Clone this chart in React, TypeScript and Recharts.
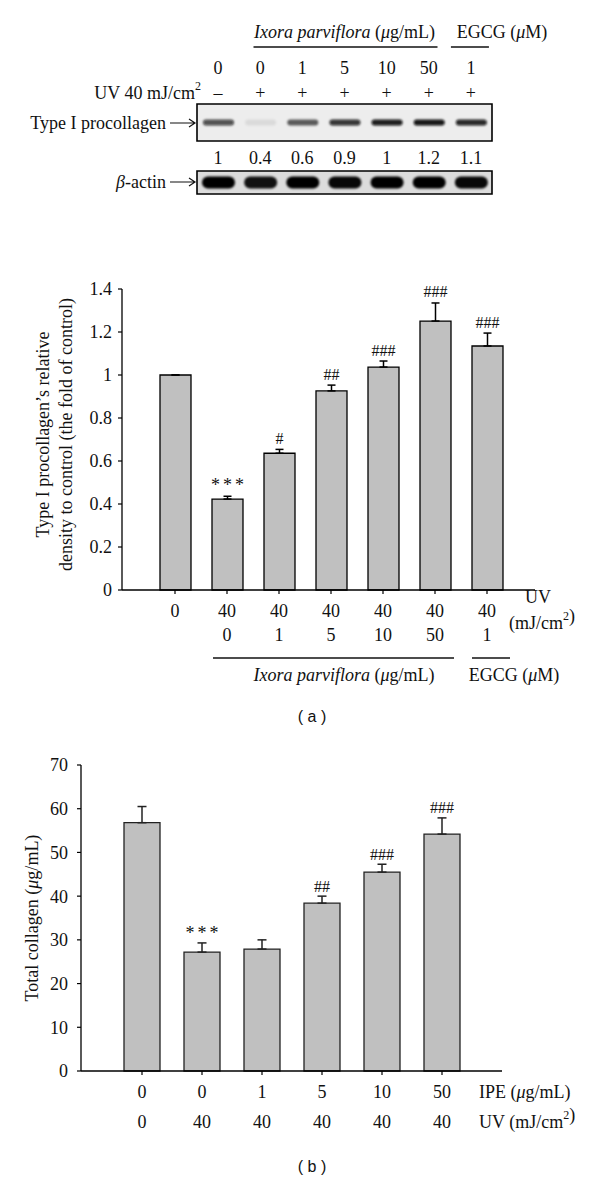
import React from "react";
import { Bar, BarChart, ErrorBar, LabelList, ReferenceArea, XAxis, YAxis } from "recharts";

const SERIF = '"Liberation Serif", "Times New Roman", serif';
const SANS = '"Liberation Sans", Arial, sans-serif';
const INK = "#111";

// western blot lanes
const blotDose = ["0", "0", "1", "5", "10", "50", "1"];
const blotUv = ["–", "+", "+", "+", "+", "+", "+"];
const blotQuant = ["1", "0.4", "0.6", "0.9", "1", "1.2", "1.1"];
const procollagenBand = [0.7, 0.08, 0.62, 0.82, 0.92, 0.95, 0.88];
const actinBand = [1, 0.92, 1, 0.97, 1, 1, 0.97];

// (a) densitometry
const uvA = ["0", "40", "40", "40", "40", "40", "40"];
const doseA = ["", "0", "1", "5", "10", "50", "1"];
const densityA = [1.0, 0.423, 0.636, 0.926, 1.037, 1.251, 1.135];
const densityErrA = [0, 0.013, 0.018, 0.027, 0.028, 0.084, 0.06];
const sigA = ["", "***", "#", "##", "###", "###", "###"];
const ticksA = [0, 0.2, 0.4, 0.6, 0.8, 1, 1.2, 1.4];

// (b) total collagen
const ipeB = ["0", "0", "1", "5", "10", "50"];
const uvB = ["0", "40", "40", "40", "40", "40"];
const collagenB = [56.8, 27.2, 27.9, 38.4, 45.5, 54.2];
const collagenErrB = [3.7, 2.1, 2.1, 1.6, 1.8, 3.7];
const sigB = ["", "***", "", "##", "###", "###"];
const ticksB = [0, 10, 20, 30, 40, 50, 60, 70];

const blotData = blotDose.map((d, i) => ({
  lane: String(i),
  procollagen: procollagenBand[i],
  actin: actinBand[i],
}));
const dataA = uvA.map((_, i) => ({ lane: String(i), density: densityA[i], err: [0, densityErrA[i]] }));
const dataB = uvB.map((_, i) => ({ lane: String(i), collagen: collagenB[i], err: [0, collagenErrB[i]] }));

const idx = (p: any) => (p.index ?? p.payload?.index ?? 0) as number;

function Sup({ children }: { children: React.ReactNode }) {
  return (
    <>
      <tspan dy={-7} fontSize={12}>{children}</tspan>
      <tspan dy={7}>{""}</tspan>
    </>
  );
}

// band drawn in the middle of the lane
function bandShape(thick: number, color: string, key: "procollagen" | "actin") {
  return (props: any) => {
    const { x, width, payload } = props;
    const bg = props.background ?? { y: props.y, height: props.height };
    const cy = bg.y + bg.height / 2;
    return (
      <rect
        x={x}
        y={cy - thick / 2}
        width={width}
        height={thick}
        rx={thick / 2}
        fill={color}
        fillOpacity={payload[key]}
        filter="url(#bandBlur)"
      />
    );
  };
}

function BlotTopTick(props: any) {
  const { x, y } = props;
  const i = idx(props);
  return (
    <g fontFamily={SERIF} fontSize={18} fill={INK}>
      <text x={x} y={y - 36} textAnchor="middle" dominantBaseline="central">{blotDose[i]}</text>
      <text x={x} y={y - 11} textAnchor="middle" dominantBaseline="central">{blotUv[i]}</text>
      {i === 3 && (
        <>
          <text x={x} y={y - 72} textAnchor="middle" dominantBaseline="central">
            <tspan fontStyle="italic">Ixora parviflora</tspan> (<tspan fontStyle="italic">μ</tspan>g/mL)
          </text>
          <line x1={x - 91} x2={x + 93} y1={y - 57} y2={y - 57} stroke={INK} strokeWidth={1.3} />
        </>
      )}
      {i === 6 && (
        <>
          <text x={x + 31} y={y - 72} textAnchor="middle" dominantBaseline="central">
            EGCG (<tspan fontStyle="italic">μ</tspan>M)
          </text>
          <line x1={x - 20} x2={x + 18} y1={y - 57} y2={y - 57} stroke={INK} strokeWidth={1.3} />
        </>
      )}
    </g>
  );
}

function BlotBottomTick(props: any) {
  const { x, y } = props;
  return (
    <text x={x} y={y + 17} textAnchor="middle" dominantBaseline="central" fontFamily={SERIF} fontSize={18} fill={INK}>
      {blotQuant[idx(props)]}
    </text>
  );
}

function TickA(props: any) {
  const { x, y } = props;
  const i = idx(props);
  return (
    <g fontFamily={SERIF} fontSize={18} fill={INK}>
      <text x={x} y={y + 17} textAnchor="middle" dominantBaseline="central">{uvA[i]}</text>
      <text x={x} y={y + 41} textAnchor="middle" dominantBaseline="central">{doseA[i]}</text>
      {i === 3 && (
        <>
          <line x1={x - 118} x2={x + 123} y1={y + 64} y2={y + 64} stroke={INK} strokeWidth={1.3} />
          <text x={x + 13} y={y + 81} textAnchor="middle" dominantBaseline="central">
            <tspan fontStyle="italic">Ixora parviflora</tspan> (<tspan fontStyle="italic">μ</tspan>g/mL)
          </text>
        </>
      )}
      {i === 6 && (
        <>
          <line x1={x - 15} x2={x + 23} y1={y + 64} y2={y + 64} stroke={INK} strokeWidth={1.3} />
          <text x={x + 27} y={y + 81} textAnchor="middle" dominantBaseline="central">
            EGCG (<tspan fontStyle="italic">μ</tspan>M)
          </text>
          <text x={x + 51} y={y + 3} textAnchor="middle" dominantBaseline="central">UV</text>
          <text x={x + 55} y={y + 29} textAnchor="middle" dominantBaseline="central">
            (mJ/cm<Sup>2</Sup>)
          </text>
        </>
      )}
    </g>
  );
}

function TickB(props: any) {
  const { x, y } = props;
  const i = idx(props);
  return (
    <g fontFamily={SERIF} fontSize={18} fill={INK}>
      <text x={x} y={y + 17} textAnchor="middle" dominantBaseline="central">{ipeB[i]}</text>
      <text x={x} y={y + 47} textAnchor="middle" dominantBaseline="central">{uvB[i]}</text>
      {i === ipeB.length - 1 && (
        <>
          <text x={x + 37} y={y + 17} dominantBaseline="central">
            IPE (<tspan fontStyle="italic">μ</tspan>g/mL)
          </text>
          <text x={x + 37} y={y + 47} dominantBaseline="central">
            UV (mJ/cm<Sup>2</Sup>)
          </text>
        </>
      )}
    </g>
  );
}

function sigLabel(marks: string[], errs: number[], gap: number) {
  return (props: any) => {
    const vb = props.viewBox ?? props;
    const i = props.index as number;
    const mark = marks[i];
    if (!mark) return null;
    const value = Number(props.value);
    const px = value ? vb.height / value : 0;
    const top = vb.y - errs[i] * px;
    const stars = mark.startsWith("*");
    return (
      <text
        x={vb.x + vb.width / 2 + (stars ? 1.5 : 0)}
        y={top - gap}
        textAnchor="middle"
        dominantBaseline="central"
        fontFamily={SERIF}
        fontSize={stars ? 18 : 16}
        letterSpacing={stars ? 3 : 0}
        fill={INK}
      >
        {mark}
      </text>
    );
  };
}

const yLabelA = (p: any) => {
  const vb = p.viewBox;
  const cy = vb.y + vb.height / 2 - 5;
  return (
    <g fontFamily={SERIF} fontSize={18} fill={INK}>
      <text transform={`translate(${vb.x - 39},${cy}) rotate(-90)`} textAnchor="middle" dominantBaseline="central">
        Type I procollagen’s relative
      </text>
      <text transform={`translate(${vb.x - 16},${cy}) rotate(-90)`} textAnchor="middle" dominantBaseline="central">
        density to control (the fold of control)
      </text>
    </g>
  );
};

const yLabelB = (p: any) => {
  const vb = p.viewBox;
  const cy = vb.y + vb.height / 2;
  return (
    <text
      transform={`translate(${vb.x - 9},${cy}) rotate(-90)`}
      textAnchor="middle"
      dominantBaseline="central"
      fontFamily={SERIF}
      fontSize={18}
      fill={INK}
    >
      Total collagen (<tspan fontStyle="italic">μ</tspan>g/mL)
    </text>
  );
};

const fmtA = (v: number) => String(Number(v.toFixed(1)));
const tickStyle = { fontSize: 18, fontFamily: SERIF, fill: INK };

function Arrow({ y }: { y: number }) {
  return <path d={`M170,${y} H195 M189,${y - 4} L195,${y} L189,${y + 4}`} stroke={INK} strokeWidth={1.2} fill="none" />;
}

export default function App() {
  return (
    <div style={{ position: "absolute", left: 0, top: 0, width: 600, height: 1185, background: "#fff", fontFamily: SERIF }}>
      {/* row labels of the blot */}
      <svg width={600} height={230} style={{ position: "absolute", left: 0, top: 0 }}>
        <g fontFamily={SERIF} fontSize={18} fill={INK}>
          <text x={201} y={93} textAnchor="end" dominantBaseline="central">
            UV 40 mJ/cm<Sup>2</Sup>
          </text>
          <text x={166} y={123} textAnchor="end" dominantBaseline="central">Type I procollagen</text>
          <text x={166} y={182} textAnchor="end" dominantBaseline="central">
            <tspan fontStyle="italic">β</tspan>-actin
          </text>
        </g>
        <Arrow y={123} />
        <Arrow y={182} />
      </svg>

      {/* procollagen blot */}
      <div style={{ position: "absolute", left: 0, top: 0 }}>
        <BarChart width={600} height={175} data={blotData} margin={{ top: 24, right: 108, bottom: 0, left: 197 }} barSize={31}>
          <defs>
            <filter id="bandBlur" x="-30%" y="-100%" width="160%" height="300%">
              <feGaussianBlur stdDeviation="1.1" />
            </filter>
          </defs>
          <XAxis xAxisId="top" orientation="top" dataKey="lane" height={80} axisLine={false} tickLine={false} tickSize={0} tickMargin={0} interval={0} tick={<BlotTopTick />} />
          <XAxis xAxisId="bottom" orientation="bottom" dataKey="lane" height={34} axisLine={false} tickLine={false} tickSize={0} tickMargin={0} interval={0} tick={<BlotBottomTick />} />
          <YAxis hide domain={[0, 1]} />
          <ReferenceArea xAxisId="top" y1={0} y2={1} fill="#ededed" fillOpacity={1} stroke="#000" strokeWidth={1.6} />
          <Bar xAxisId="top" dataKey="procollagen" shape={bandShape(6, "#0a0a0a", "procollagen")} isAnimationActive={false} />
        </BarChart>
      </div>

      {/* actin blot */}
      <div style={{ position: "absolute", left: 0, top: 168 }}>
        <BarChart width={600} height={30} data={blotData} margin={{ top: 3, right: 108, bottom: 4, left: 197 }} barSize={33}>
          <XAxis dataKey="lane" hide />
          <YAxis hide domain={[0, 1]} />
          <ReferenceArea y1={0} y2={1} fill="#dcdcdc" fillOpacity={1} stroke="#000" strokeWidth={1.6} />
          <Bar dataKey="actin" shape={bandShape(12, "#050505", "actin")} isAnimationActive={false} />
        </BarChart>
      </div>

      {/* (a) */}
      <div style={{ position: "absolute", left: 0, top: 270 }}>
        <BarChart width={600} height={430} data={dataA} margin={{ top: 19, right: 65, bottom: 10, left: 82 }} barSize={31}>
          <XAxis
            dataKey="lane"
            height={100}
            interval={0}
            padding={{ left: 27, right: 22 }}
            axisLine={{ stroke: "#000", strokeWidth: 1.3 }}
            tickLine={{ stroke: "#000", strokeWidth: 1.2 }}
            tickSize={4}
            tickMargin={0}
            tick={<TickA />}
          />
          <YAxis
            width={40}
            domain={[0, 1.4]}
            ticks={ticksA}
            interval={0}
            tickFormatter={fmtA}
            axisLine={{ stroke: "#000", strokeWidth: 1.3 }}
            tickLine={{ stroke: "#000", strokeWidth: 1.2 }}
            tickSize={4}
            tickMargin={6}
            tick={tickStyle}
            label={{ content: yLabelA }}
          />
          <Bar dataKey="density" fill="#c0c0c0" stroke="#000" strokeWidth={1.3} isAnimationActive={false}>
            <ErrorBar dataKey="err" direction="y" width={4} stroke="#000" strokeWidth={1.5} />
            <LabelList dataKey="density" content={sigLabel(sigA, densityErrA, 11)} />
          </Bar>
        </BarChart>
      </div>
      <div style={{ position: "absolute", left: 0, top: 708, width: 624, textAlign: "center", fontFamily: SANS, fontSize: 16, color: INK, whiteSpace: "pre" }}>
        {"( a )"}
      </div>

      {/* (b) */}
      <div style={{ position: "absolute", left: 0, top: 740 }}>
        <BarChart width={600} height={420} data={dataB} margin={{ top: 25, right: 98, bottom: 9, left: 41 }} barSize={36}>
          <XAxis
            dataKey="lane"
            height={80}
            interval={0}
            padding={{ left: 31, right: 30 }}
            axisLine={{ stroke: "#000", strokeWidth: 1.3 }}
            tickLine={{ stroke: "#000", strokeWidth: 1.2 }}
            tickSize={4}
            tickMargin={0}
            tick={<TickB />}
          />
          <YAxis
            width={40}
            domain={[0, 70]}
            ticks={ticksB}
            interval={0}
            axisLine={{ stroke: "#000", strokeWidth: 1.3 }}
            tickLine={{ stroke: "#000", strokeWidth: 1.2 }}
            tickSize={4}
            tickMargin={9}
            tick={tickStyle}
            label={{ content: yLabelB }}
          />
          <Bar dataKey="collagen" fill="#c0c0c0" stroke="#222" strokeWidth={1.3} isAnimationActive={false}>
            <ErrorBar dataKey="err" direction="y" width={4.5} stroke="#222" strokeWidth={1.5} />
            <LabelList dataKey="collagen" content={sigLabel(sigB, collagenErrB, 10)} />
          </Bar>
        </BarChart>
      </div>
      <div style={{ position: "absolute", left: 0, top: 1158, width: 624, textAlign: "center", fontFamily: SANS, fontSize: 16, color: INK, whiteSpace: "pre" }}>
        {"( b )"}
      </div>
    </div>
  );
}
